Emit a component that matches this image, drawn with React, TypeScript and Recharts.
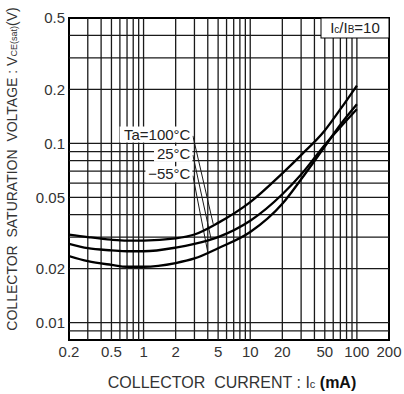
import React from "react";
import {
  LineChart,
  Line,
  XAxis,
  YAxis,
  ReferenceLine,
  ReferenceArea,
  ReferenceDot,
} from "recharts";

// collector current Ic (mA)
const icValues = [0.2, 0.3, 0.5, 0.7, 1, 2, 3, 5, 10, 20, 30, 50, 70, 100];
// VCE(sat) (V) per ambient temperature
const vce100 = [0.031, 0.03, 0.029, 0.0287, 0.0287, 0.0295, 0.031, 0.036, 0.047, 0.068, 0.086, 0.118, 0.155, 0.21];
const vce25 = [0.0275, 0.026, 0.0253, 0.025, 0.025, 0.0262, 0.0275, 0.03, 0.037, 0.052, 0.067, 0.098, 0.123, 0.155];
const vceM55 = [0.0235, 0.022, 0.021, 0.0205, 0.0205, 0.0215, 0.0228, 0.026, 0.032, 0.046, 0.063, 0.096, 0.127, 0.165];

const xTicks = [0.2, 0.5, 1, 2, 5, 10, 20, 50, 100, 200];
const yTicks = [0.01, 0.02, 0.05, 0.1, 0.2, 0.5];
const xGrid = [0.3, 0.4, 0.5, 0.6, 0.7, 0.8, 0.9, 1, 2, 3, 4, 5, 6, 7, 8, 9, 10, 20, 30, 40, 50, 60, 70, 80, 90, 100];
const yGrid = [0.009, 0.01, 0.02, 0.03, 0.04, 0.05, 0.06, 0.07, 0.08, 0.09, 0.1, 0.2, 0.3, 0.4];

const tempLabels = ["Ta=100°C", "25°C", "\u221255°C"];
const labelAnchors = [
  { x: 2.75, y: 0.105 },
  { x: 2.75, y: 0.082 },
  { x: 2.75, y: 0.063 },
];
const leaders = [
  [{ x: 2.9, y: 0.11 }, { x: 4.5, y: 0.0355 }],
  [{ x: 2.9, y: 0.086 }, { x: 4.3, y: 0.0292 }],
  [{ x: 2.9, y: 0.066 }, { x: 4.0, y: 0.0247 }],
];

const rows = icValues.map((ic, i) => ({
  ic,
  t100: vce100[i],
  t25: vce25[i],
  tm55: vceM55[i],
}));

const FONT = "'Liberation Sans', Arial, sans-serif";
const INK = "#1a1a1a";

function XTitle(props: any) {
  const vb = props.viewBox || {};
  return (
    <text x={vb.x + vb.width / 2 + 3} y={vb.y + 48} textAnchor="middle" fontFamily={FONT} fontSize={16} fill="#333" style={{ whiteSpace: "pre" }}>
      {"COLLECTOR  CURRENT : I"}
      <tspan fontSize={11}>c</tspan>
      <tspan fontWeight="bold" fill="#111">{" (mA)"}</tspan>
    </text>
  );
}

function YTitle() {
  return (
    <text x={17} y={169} transform="rotate(-90 17 169)" textAnchor="middle" fontFamily={FONT} fontSize={14} fill="#333" style={{ whiteSpace: "pre" }}>
      {"COLLECTOR  SATURATION  VOLTAGE : V"}
      <tspan fontSize={9}>CE(sat)</tspan>
      {"(V)"}
    </text>
  );
}

export default function App() {
  return (
    <div style={{ position: "absolute", left: 0, top: 0, width: 404, height: 394, background: "#fff" }}>
      <LineChart width={404} height={394} data={rows} margin={{ top: 18, right: 15, bottom: 24, left: 0 }}>
        <XAxis
          type="number"
          dataKey="ic"
          scale="log"
          domain={[0.2, 200]}
          ticks={xTicks}
          interval={0}
          allowDataOverflow
          tickLine={false}
          axisLine={false}
          tickSize={4}
          tickMargin={2}
          height={30}
          tick={{ fill: "#333", fontSize: 15, fontFamily: FONT }}
          label={XTitle}
        />
        <YAxis
          type="number"
          scale="log"
          domain={[0.008, 0.5]}
          ticks={yTicks}
          interval={0}
          allowDataOverflow
          tickLine={false}
          axisLine={false}
          tickSize={2}
          tickMargin={2}
          width={69}
          tick={{ fill: "#333", fontSize: 15, fontFamily: FONT }}
          label={YTitle}
        />
        {xGrid.map((v) => (
          <ReferenceLine key={"x" + v} x={v} stroke={INK} strokeWidth={1.3} />
        ))}
        {yGrid.map((v) => (
          <ReferenceLine key={"y" + v} y={v} stroke={INK} strokeWidth={1.3} />
        ))}
        <ReferenceArea x1={0.2} x2={200} y1={0.008} y2={0.5} fill="none" fillOpacity={0} stroke="#000" strokeWidth={2} />
        {leaders.map((seg, i) => (
          <ReferenceLine key={"l" + i} segment={seg} stroke={INK} strokeWidth={1} ifOverflow="visible" />
        ))}
        {tempLabels.map((t, i) => (
          <ReferenceDot
            key={t}
            x={labelAnchors[i].x}
            y={labelAnchors[i].y}
            ifOverflow="visible"
            shape={(p: any) => {
              const w = t.length * 8.6 + 2;
              return (
                <g>
                  <rect x={p.cx - w} y={p.cy - 13} width={w + 2} height={16} fill="#fff" />
                  <text x={p.cx} y={p.cy} textAnchor="end" fontFamily={FONT} fontSize={15} fill="#222">
                    {t}
                  </text>
                </g>
              );
            }}
          />
        ))}
        <ReferenceDot
          x={200}
          y={0.5}
          ifOverflow="visible"
          shape={(p: any) => (
            <g>
              <rect x={p.cx - 68} y={p.cy} width={68} height={20} fill="#fff" stroke="#000" strokeWidth={1} />
              <text x={p.cx - 34} y={p.cy + 15} textAnchor="middle" fontFamily={FONT} fontSize={15} fill="#222">
                {"I"}
                <tspan fontSize={10}>c</tspan>
                {"/I"}
                <tspan fontSize={10}>B</tspan>
                {"=10"}
              </text>
            </g>
          )}
        />
        <Line type="monotone" dataKey="t100" name="Ta=100°C" stroke="#000" strokeWidth={2.3} dot={false} isAnimationActive={false} />
        <Line type="monotone" dataKey="t25" name="25°C" stroke="#000" strokeWidth={2.3} dot={false} isAnimationActive={false} />
        <Line type="monotone" dataKey="tm55" name="-55°C" stroke="#000" strokeWidth={2.3} dot={false} isAnimationActive={false} />
      </LineChart>
    </div>
  );
}
